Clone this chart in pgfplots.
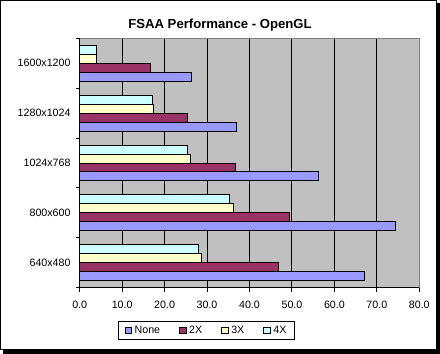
\documentclass[border=0pt]{standalone}
\usepackage{pgfplots}
\pgfplotsset{compat=1.18}
\usepackage{fontspec}
\setmainfont{Liberation Sans}
\definecolor{cNone}{HTML}{9999FF}
\definecolor{cTwo}{HTML}{993366}
\definecolor{cThree}{HTML}{FFFFCC}
\definecolor{cFour}{HTML}{CCFFFF}
\definecolor{plotbg}{HTML}{C0C0C0}
\definecolor{borderg}{HTML}{808080}
\begin{document}
\begin{tikzpicture}
\useasboundingbox (0bp,0bp) rectangle (440bp,354bp);
\fill[black] (3bp,0bp) rectangle (440bp,351bp);
\filldraw[fill=white,draw=black,line width=1bp] (0.5bp,4.5bp) rectangle (436.5bp,353.5bp);
\node[anchor=base,font=\bfseries\fontsize{13.2}{15}\selectfont] at (220bp,325.7bp) {FSAA Performance - OpenGL};
\begin{axis}[
  at={(79.7bp,66.3bp)}, anchor=south west,
  scale only axis, width=339.6bp, height=249.4bp,
  xbar, bar width=0.18,
  xmin=0, xmax=80, ymin=-0.5, ymax=4.5,
  xtick={0,10,...,80},
  ytick={0,1,2,3,4},
  yticklabels={640x480,800x600,1024x768,1280x1024,1600x1200},
  minor ytick={-0.5,0.5,...,4.5},
  tick pos=left, tick align=outside,
  major tick length=4bp, minor tick length=4bp,
  ytick style={draw=none},
  minor y tick style={draw=black,line width=1bp},
  x tick style={black,line width=1bp},
  xmajorgrids, major x grid style={black,line width=1bp},
  axis background/.style={fill=plotbg},
  axis line style={draw=borderg,line width=1bp},
  font=\fontsize{10.7}{12}\selectfont,
  ticklabel style={font=\fontsize{10.7}{12}\selectfont},
  /pgf/number format/assume math mode=true,
  xticklabel={\pgfmathprintnumber[fixed,fixed zerofill,precision=1]{\tick}},
  x tick label style={anchor=north,inner sep=0pt,yshift=-9.3bp},
  y tick label style={anchor=east,inner sep=0pt,xshift=-5bp},
  legend columns=4,
  legend image code/.code={\draw[#1,line width=1bp] (0bp,-3.3bp) rectangle (6.6bp,3.3bp);},
  legend style={at={(axis description cs:0.3734,-0.1716)}, anchor=center,
    draw=black, line width=1bp, font=\fontsize{10.7}{12}\selectfont,
    inner xsep=6bp, inner ysep=3bp,
    /tikz/every odd column/.append style={column sep=0.5bp},
    /tikz/every even column/.append style={column sep=17bp}},
  legend cell align=left,
  after end axis/.code={\draw[black,line width=1bp] (rel axis cs:0,1) -- (rel axis cs:0,0) -- (rel axis cs:1,0);},
]
\addplot[draw=black,line width=1bp,fill=cNone,bar shift=-0.27] coordinates {(67.0,0) (74.4,1) (56.2,2) (36.9,3) (26.3,4)};
\addplot[draw=black,line width=1bp,fill=cTwo,bar shift=-0.09] coordinates {(46.9,0) (49.4,1) (36.7,2) (25.4,3) (16.6,4)};
\addplot[draw=black,line width=1bp,fill=cThree,bar shift=0.09] coordinates {(28.6,0) (36.2,1) (26.1,2) (17.3,3) (3.9,4)};
\addplot[draw=black,line width=1bp,fill=cFour,bar shift=0.27] coordinates {(27.9,0) (35.2,1) (25.4,2) (17.1,3) (3.9,4)};
\legend{None,2X,3X,4X}
\end{axis}
\end{tikzpicture}
\end{document}
